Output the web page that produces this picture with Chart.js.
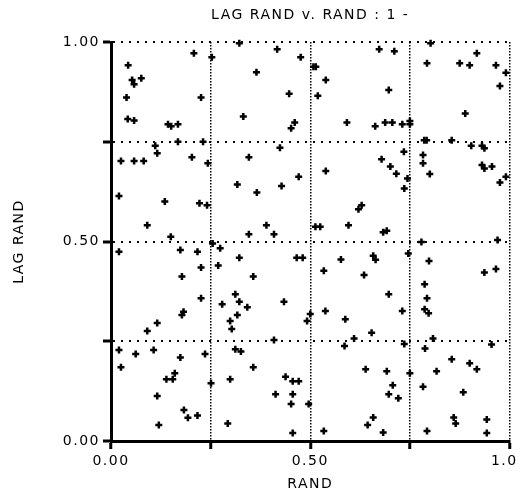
<!DOCTYPE html>
<html><head><meta charset="utf-8">
<script src="https://cdn.jsdelivr.net/npm/chart.js@4"></script>
<style>html,body{margin:0;padding:0;background:#fff}</style>
</head><body>
<canvas id="c" width="516" height="496" style="display:block;width:516px;height:496px"></canvas>
<script>
const chartTitle = 'LAG RAND v. RAND : 1 -';
const xAxisTitle = 'RAND';
const yAxisTitle = 'LAG RAND';
const tickValues = [0, 0.25, 0.5, 0.75, 1];
const tickLabels = ['0.00', '', '0.50', '', '1.00'];

const rand = [
0.208,0.043,0.053,0.058,0.076,0.039,0.226,0.042,0.058,0.143,
0.151,0.168,0.253,0.322,0.417,0.476,0.508,0.514,0.365,0.447,
0.332,0.461,0.452,0.111,0.168,0.231,0.116,0.025,0.058,0.082,
0.203,0.243,0.346,0.424,0.471,0.673,0.711,0.539,0.519,0.697,
0.592,0.663,0.688,0.706,0.731,0.750,0.750,0.802,0.793,0.875,
0.900,0.918,0.966,0.991,0.976,0.889,0.786,0.792,0.855,0.904,
0.931,0.937,0.783,0.783,0.931,0.937,0.956,0.800,0.735,0.679,
0.701,0.716,0.539,0.991,0.744,0.736,0.976,0.020,0.135,0.222,
0.241,0.091,0.150,0.020,0.174,0.217,0.226,0.178,0.226,0.317,
0.366,0.428,0.390,0.346,0.409,0.255,0.274,0.322,0.466,0.481,
0.269,0.357,0.312,0.322,0.279,0.342,0.434,0.621,0.629,0.513,
0.525,0.596,0.683,0.692,0.779,0.970,0.577,0.658,0.664,0.746,
0.534,0.635,0.697,0.798,0.937,0.966,0.787,0.793,0.787,0.538,
0.731,0.182,0.178,0.116,0.091,0.020,0.062,0.107,0.025,0.174,
0.236,0.139,0.155,0.160,0.116,0.183,0.193,0.217,0.120,0.251,
0.317,0.299,0.303,0.492,0.500,0.409,0.312,0.326,0.357,0.299,
0.438,0.456,0.471,0.413,0.456,0.452,0.496,0.293,0.456,0.588,
0.654,0.610,0.586,0.736,0.639,0.692,0.750,0.707,0.697,0.721,
0.658,0.644,0.534,0.683,0.797,0.808,0.788,0.955,0.855,0.900,
0.918,0.817,0.783,0.884,0.860,0.865,0.943,0.793,0.943
];
const lagRand = [
0.972,0.942,0.905,0.894,0.909,0.861,0.861,0.807,0.803,0.794,
0.789,0.794,0.962,0.997,0.982,0.962,0.938,0.938,0.924,0.870,
0.813,0.798,0.784,0.740,0.750,0.750,0.721,0.702,0.702,0.702,
0.711,0.696,0.711,0.735,0.662,0.982,0.977,0.905,0.865,0.880,
0.798,0.789,0.798,0.798,0.794,0.802,0.794,0.997,0.947,0.947,
0.942,0.972,0.942,0.923,0.890,0.821,0.754,0.754,0.754,0.740,
0.740,0.734,0.717,0.696,0.692,0.683,0.688,0.669,0.725,0.706,
0.688,0.670,0.677,0.662,0.658,0.633,0.648,0.614,0.600,0.596,
0.591,0.541,0.512,0.474,0.479,0.474,0.435,0.412,0.358,0.643,
0.623,0.639,0.541,0.518,0.518,0.495,0.483,0.459,0.459,0.459,
0.440,0.412,0.368,0.349,0.343,0.335,0.349,0.581,0.591,0.537,
0.537,0.541,0.523,0.527,0.499,0.504,0.455,0.464,0.454,0.470,
0.427,0.416,0.368,0.451,0.422,0.431,0.393,0.358,0.330,0.326,
0.326,0.324,0.316,0.296,0.276,0.228,0.218,0.228,0.185,0.209,
0.218,0.155,0.155,0.170,0.113,0.078,0.058,0.064,0.040,0.145,
0.316,0.301,0.281,0.301,0.318,0.253,0.230,0.224,0.185,0.155,
0.161,0.150,0.150,0.117,0.117,0.093,0.093,0.044,0.020,0.305,
0.271,0.257,0.238,0.243,0.180,0.175,0.170,0.140,0.117,0.107,
0.059,0.040,0.025,0.021,0.320,0.257,0.232,0.242,0.205,0.195,
0.180,0.175,0.136,0.122,0.059,0.044,0.054,0.025,0.020
];

const FONT = "'DejaVu Sans', 'Liberation Sans', Arial, sans-serif";
const spacingPlugin = {
  id: 'spacing',
  beforeLayout(c) { c.ctx.letterSpacing = '1.5px'; },
  beforeDraw(c) { c.ctx.letterSpacing = '1.5px'; }
};
const fixedTicks = s => { s.ticks = tickValues.map(v => ({ value: v })); };

new Chart(document.getElementById('c'), {
  type: 'scatter',
  data: {
    datasets: [{
      data: rand.map((x, i) => ({ x: x, y: lagRand[i] })),
      pointStyle: 'cross',
      radius: 3.5,
      borderWidth: 2.5,
      borderColor: '#000',
      backgroundColor: '#000',
      clip: false
    }]
  },
  plugins: [spacingPlugin],
  options: {
    responsive: false,
    animation: false,
    events: [],
    layout: { padding: { left: 0, right: 4, top: 0, bottom: 0 } },
    plugins: {
      legend: { display: false },
      tooltip: { enabled: false },
      title: {
        display: true, text: chartTitle, color: '#000', fullSize: false,
        font: { family: FONT, size: 14, weight: 'normal', lineHeight: 1.2 },
        padding: { top: 7, bottom: 18.2 }
      }
    },
    scales: {
      x: {
        type: 'linear', min: 0, max: 1,
        afterBuildTicks: fixedTicks,
        ticks: { autoSkip: false, maxRotation: 0, padding: 4, color: '#000',
          font: { family: FONT, size: 14 }, callback: (v, i) => tickLabels[i] },
        grid: { color: '#000', lineWidth: 1.5, tickLength: 8, tickWidth: 3, tickColor: '#000', tickBorderDash: [] },
        border: { display: true, color: '#000', width: 3, dash: [1.5, 1.5] },
        title: { display: true, text: xAxisTitle, color: '#000',
          font: { family: FONT, size: 14, lineHeight: 1.2 }, padding: { top: 0, bottom: 3 } },
        afterFit(s) { s.height = 55; s.paddingLeft = 0; s.paddingRight = 0; }
      },
      y: {
        type: 'linear', min: 0, max: 1,
        afterBuildTicks: fixedTicks,
        ticks: { autoSkip: false, padding: 3, color: '#000',
          font: { family: FONT, size: 14 }, callback: (v, i) => tickLabels[i] },
        grid: { color: '#000', lineWidth: 2, tickLength: 8, tickWidth: 3, tickColor: '#000', tickBorderDash: [] },
        border: { display: true, color: '#000', width: 3, dash: [2, 6] },
        title: { display: true, text: yAxisTitle, color: '#000',
          font: { family: FONT, size: 14, lineHeight: 1.2 }, padding: { top: 11, bottom: 0 } },
        afterFit(s) { s.width = 111; s.paddingTop = 0; s.paddingBottom = 0; }
      }
    }
  }
});
</script>
</body></html>
